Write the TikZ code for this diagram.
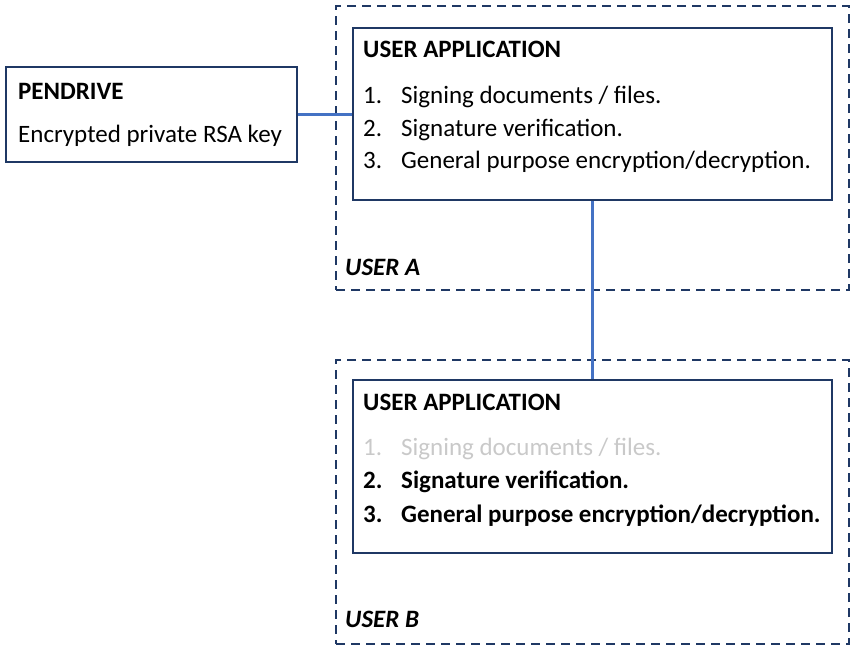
\documentclass[tikz,border=0pt]{standalone}
\usepackage{fontspec}
\setmainfont{Carlito}
\usetikzlibrary{positioning}
\definecolor{navy}{HTML}{1F3864}
\definecolor{linkblue}{HTML}{4472C4}
\definecolor{faded}{HTML}{C9C9C9}
\tikzset{
  box/.style={draw=navy, line width=2pt, anchor=north west, inner sep=0pt},
  userbox/.style={box, dash pattern=on 9pt off 6pt},
  txt/.style={anchor=base west, inner sep=0pt, font=\fontsize{25}{30}\selectfont},
  link/.style={draw=linkblue, line width=2.2pt},
}
\newcommand{\numitem}[2]{\makebox[38pt][l]{#1}#2}
\begin{document}
\begin{tikzpicture}[x=1pt, y=-1pt]
    \useasboundingbox (0,0) rectangle (854,651);
    % user A
    \node[userbox, minimum width=513pt, minimum height=284pt] (userA) at (335,5) {};
    \node[txt, font=\fontsize{25}{30}\selectfont\bfseries\itshape] (labelA) at ([shift={(10,270)}]userA.north west) {USER A};

    \node[box, minimum width=479pt, minimum height=172pt] (appA) at (352,27) {};
    \node[txt, font=\fontsize{25}{30}\selectfont\bfseries] (titleA) at ([shift={(11,30)}]appA.north west) {USER APPLICATION};
    \node[txt] (signA) at ([shift={(11,76)}]appA.north west) {\numitem{1.}{Signing documents / files.}};
    \node[txt] (verifA) at ([shift={(11,109)}]appA.north west) {\numitem{2.}{Signature verification.}};
    \node[txt] (cryptA) at ([shift={(11,141)}]appA.north west) {\numitem{3.}{General purpose encryption/decryption.}};

    % pendrive
    \node[box, minimum width=291pt, minimum height=95pt] (pendrive) at (5,66) {};
    \node[txt, font=\fontsize{25}{30}\selectfont\bfseries] (pendTitle) at ([shift={(13,33)}]pendrive.north west) {PENDRIVE};
    \node[txt] (pendKey) at ([shift={(13,76)}]pendrive.north west) {Encrypted private RSA key};

    % user B
    \node[userbox, minimum width=513pt, minimum height=284pt] (userB) at (335,359) {};
    \node[txt, font=\fontsize{25}{30}\selectfont\bfseries\itshape] (labelB) at ([shift={(10,268)}]userB.north west) {USER B};

    \node[box, minimum width=479pt, minimum height=173pt] (appB) at (352,379) {};
    \node[txt, font=\fontsize{25}{30}\selectfont\bfseries] (titleB) at ([shift={(11,31)}]appB.north west) {USER APPLICATION};
    \node[txt, text=faded] (signB) at ([shift={(11,76)}]appB.north west) {\numitem{1.}{Signing documents / files.}};
    \node[txt, font=\fontsize{25}{30}\selectfont\bfseries] (verifB) at ([shift={(11,109)}]appB.north west) {\numitem{2.}{Signature verification.}};
    \node[txt, font=\fontsize{25}{30}\selectfont\bfseries] (cryptB) at ([shift={(11,143)}]appB.north west) {\numitem{3.}{General purpose encryption/decryption.}};

    % links
    \draw[link] (pendrive.east) -- (pendrive.east -| appA.west);
    \draw[link] (appA.south) -- (appB.north);
\end{tikzpicture}
\end{document}
